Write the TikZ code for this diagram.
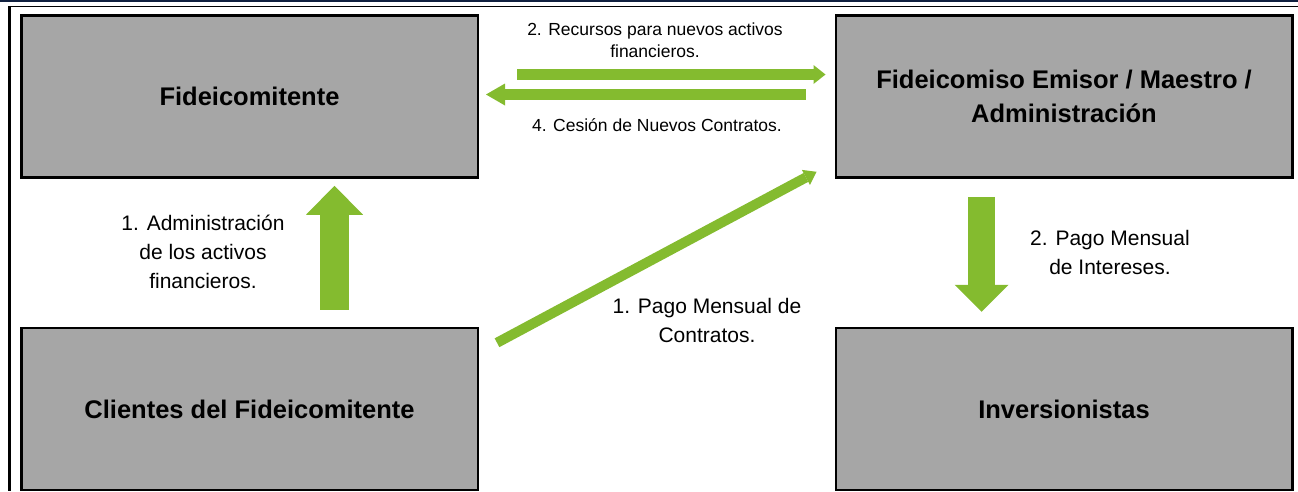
\documentclass[tikz,border=0pt]{standalone}
\usepackage{fontspec}
\setmainfont{Liberation Sans}
\usetikzlibrary{arrows.meta,calc}
\definecolor{boxgray}{RGB}{166,166,166}
\definecolor{flowgreen}{RGB}{132,187,47}
\definecolor{topnavy}{RGB}{16,32,64}
\begin{document}
\begin{tikzpicture}[x=1pt,y=-1pt,
  party/.style={draw=black, line width=2.5pt, fill=boxgray, minimum width=456.5pt,
    minimum height=162pt, inner sep=0pt, align=center,
    font=\fontsize{25.5}{34}\selectfont\bfseries},
  lbl/.style={inner sep=0pt, align=center, font=\fontsize{21}{29}\selectfont},
  lblsmall/.style={inner sep=0pt, align=center, font=\fontsize{17.5}{22}\selectfont},
  vbig/.style={draw=flowgreen, line width=29pt,
    -{Triangle[width=57pt,length=29pt,line width=0pt]}},
  vbigdown/.style={draw=flowgreen, line width=27pt,
    -{Triangle[width=54pt,length=27pt,line width=0pt]}},
  hright/.style={draw=flowgreen, line width=11pt,
    -{Triangle[width=19pt,length=12pt,line width=0pt]}},
  hleft/.style={draw=flowgreen, line width=11pt,
    -{Triangle[width=22pt,length=19pt,line width=0pt]}},
  diag/.style={draw=flowgreen, line width=10pt,
    -{Triangle[width=17pt,length=12pt,line width=0pt]}}]
\useasboundingbox (0,0) rectangle (1298,491);
% frame
\fill[topnavy] (0,0) rectangle (1298,1.5);
\fill[black] (8,5.5) rectangle (1298,7);
\fill[black] (8,5.5) rectangle (10.5,491);
% boxes
\node[party] (fidei) at (249.5,96.5) {Fideicomitente};
\node[party] (fiso) at (1064,96.5) {Fideicomiso Emisor / Maestro /\\Administración};
\node[party] (clientes) at (249.5,409) {Clientes del Fideicomitente};
\node[party] (inv) at (1064,409) {Inversionistas};
% arrow end points
\coordinate (upS) at ($(clientes.north)+(85,-17)$);
\coordinate (upE) at ($(fidei.south)+(85,7)$);
\coordinate (r1S) at ($(fidei.east)+(38,-22)$);
\coordinate (r1E) at ($(fiso.west)+(-9,-22)$);
\coordinate (l4S) at ($(fiso.west)+(-29,-2)$);
\coordinate (l4E) at ($(fidei.east)+(7,-2)$);
\coordinate (dS) at ($(fiso.south)+(-82.5,18)$);
\coordinate (dE) at ($(inv.north)+(-82.5,-15)$);
\coordinate (gS) at ($(clientes.north east)+(18,16)$);
\coordinate (gE) at ($(fiso.south west)+(-18,-7)$);
% arrows
\draw[vbig] (upS) -- (upE);
\draw[vbigdown] (dS) -- (dE);
\draw[hright] (r1S) -- (r1E);
\draw[hleft] (l4S) -- (l4E);
\draw[diag] (gS) -- (gE);
% labels
\node[lblsmall] (t2) at (655,40) {2. Recursos para nuevos activos\\financieros.};
\node[lblsmall] (t4) at (657,125) {4. Cesión de Nuevos Contratos.};
\node[lbl] (t1a) at (203,252) {1. Administración\\de los activos\\financieros.};
\node[lbl] (t1p) at (707,320) {1. Pago Mensual de\\Contratos.};
\node[lbl] (t2p) at (1110,252) {2. Pago Mensual\\de Intereses.};
\end{tikzpicture}
\end{document}
